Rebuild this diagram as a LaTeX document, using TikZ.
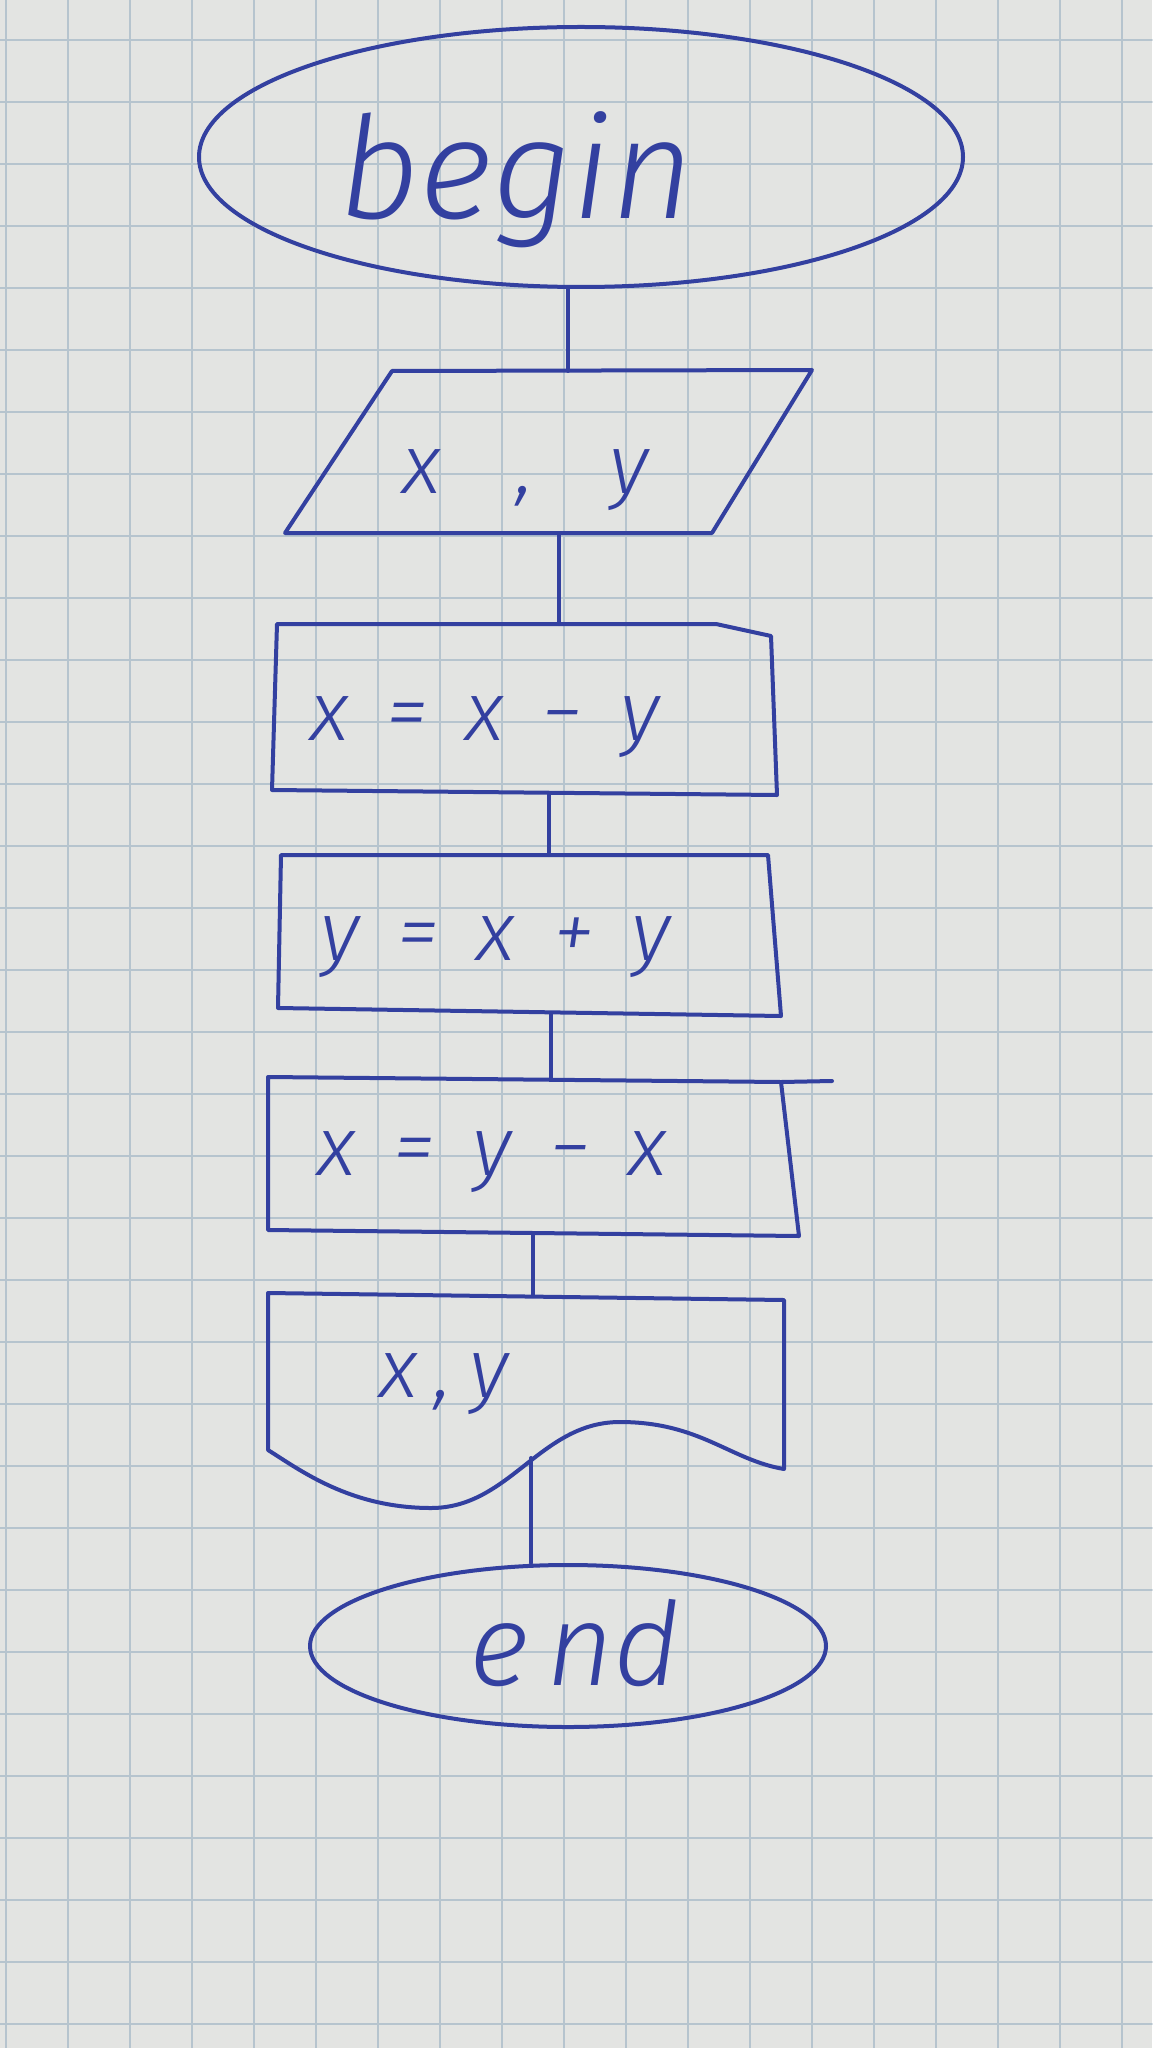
\documentclass[tikz,border=0pt]{standalone}
\usepackage{fontspec}
\setmainfont{DejaVu Sans}
\newfontfamily\hand{Fira Sans Light Italic}
\usetikzlibrary{shapes.geometric}
\definecolor{paper}{HTML}{E3E4E2}
\definecolor{gridc}{HTML}{B6C4CE}
\definecolor{ink}{HTML}{3340A0}
\newcommand{\gap}{\hspace{0.45em}}
\begin{document}
\begin{tikzpicture}[x=0.5pt,y=-0.5pt, line join=round, line cap=round,
  inkline/.style={draw=ink, line width=2pt},
  gridline/.style={draw=gridc, line width=0.8pt},
  lbl/.style={text=ink, font=\fontsize{42}{50}\selectfont\hand, anchor=base, inner sep=0pt},
  term/.style={inkline, ellipse, inner sep=0pt}]
\fill[paper] (0,0) rectangle (1152,2048);
\useasboundingbox (0,0) rectangle (1152,2048);
% squared paper
\foreach \k in {0,...,18} \draw[gridline] ({6+62*\k},0) -- ({6+62*\k},2048);
\foreach \k in {0,...,33} \draw[gridline] (0,{40+62*\k}) -- (1152,{40+62*\k});

% begin
\node[term, minimum width=382pt, minimum height=130pt] (begin) at (581,157) {};
\node[lbl, font=\fontsize{71}{80}\selectfont\hand] (tbegin) at (516,219) {begin};

% input parallelogram
\draw[inkline] (392,371) -- (812,370) -- (712,533) -- (285,533) -- cycle;
\coordinate (io1top) at (568,371);
\coordinate (io1bot) at (559,533);
\node[lbl] (tio1) at (526,494) {x\hspace{0.9em},\hspace{0.9em}y};

% x = x - y
\draw[inkline] (277,624) -- (716,624) -- (771,636) -- (777,795) -- (272,790) -- cycle;
\coordinate (b1top) at (559,624);
\coordinate (b1bot) at (549,793);
\node[lbl] (tb1) at (485,740) {x\gap=\gap x\gap−\gap y};

% y = x + y
\draw[inkline] (281,855) -- (768,855) -- (781,1016) -- (278,1008) -- cycle;
\coordinate (b2top) at (549,855);
\coordinate (b2bot) at (551,1013);
\node[lbl] (tb2) at (496,960) {y\gap=\gap x\gap+\gap y};

% x = y - x
\draw[inkline] (268,1077) -- (781,1082) -- (799,1236) -- (268,1230) -- cycle;
\draw[inkline] (781,1082) -- (832,1081);
\coordinate (b3top) at (551,1079);
\coordinate (b3bot) at (533,1234);
\node[lbl] (tb3) at (492,1175) {x\gap=\gap y\gap−\gap x};

% output document
\draw[inkline] (268,1293) -- (784,1300) -- (784,1469)
  .. controls (730,1460) and (700,1422) .. (620,1422)
  .. controls (540,1422) and (510,1508) .. (431,1508)
  .. controls (350,1508) and (300,1470) .. (268,1450) -- cycle;
\coordinate (d1top) at (533,1296);
\coordinate (d1bot) at (531,1458);
\node[lbl] (td1) at (444,1397) {x\hspace{0.2em},\hspace{0.2em}y};

% end
\node[term, minimum width=258pt, minimum height=81pt] (end) at (568,1646) {};
\node[lbl, font=\fontsize{58}{66}\selectfont\hand] (tend) at (575,1685) {e\hspace{0.15em}nd};

% connectors
\draw[inkline] (begin.south -| io1top) -- (io1top);
\draw[inkline] (io1bot) -- (b1top);
\draw[inkline] (b1bot) -- (b2top);
\draw[inkline] (b2bot) -- (b3top);
\draw[inkline] (b3bot) -- (d1top);
\draw[inkline] (d1bot) -- (d1bot |- end.north);
\end{tikzpicture}
\end{document}
